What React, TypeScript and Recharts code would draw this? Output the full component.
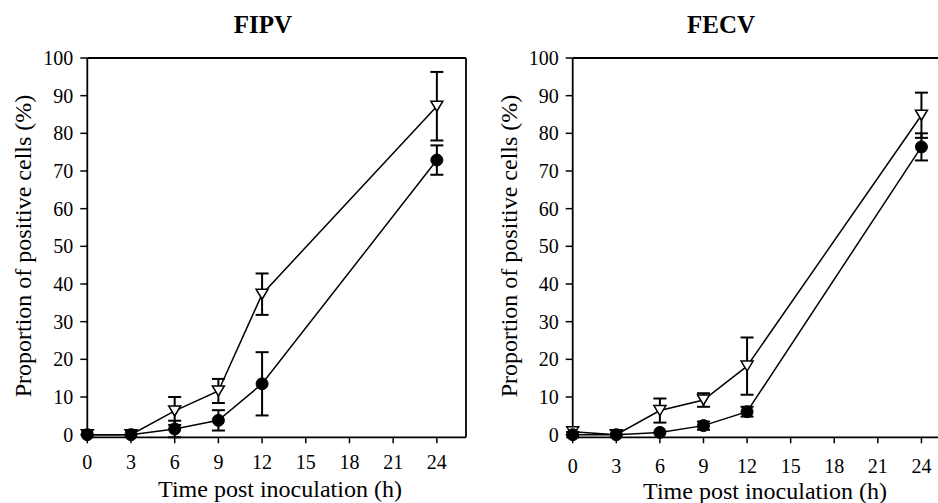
import React from 'react';
import { LineChart, Line, XAxis, YAxis, ErrorBar, ReferenceLine } from 'recharts';

const hours = [0, 3, 6, 9, 12, 24];
const xTicks = [0, 3, 6, 9, 12, 15, 18, 21, 24];
const yTicks = [0, 10, 20, 30, 40, 50, 60, 70, 80, 90, 100];

const fipvTri = [0, 0, 6.3, 11.6, 37.3, 87.2];
const fipvTriErr = [0, 0, 3.7, 3.2, 5.5, 9.1];
const fipvCirc = [0, 0, 1.5, 3.8, 13.5, 72.9];
const fipvCircErr = [0, 0, 2.2, 2.7, 8.4, 3.9];

const fecvTri = [0.8, 0, 6.4, 9.2, 18.2, 84.8];
const fecvTriErr = [0, 0, 3.2, 1.8, 7.6, 6];
const fecvCirc = [0, 0, 0.6, 2.4, 6.1, 76.4];
const fecvCircErr = [0.7, 0, 0, 1.1, 1.3, 3.6];

const titles = ['FIPV', 'FECV'];
const yLabel = 'Proportion of positive cells (%)';
const xLabel = 'Time post inoculation (h)';

const FONT = '"Liberation Serif", "Times New Roman", serif';

const build = (tri: number[], triErr: number[], circ: number[], circErr: number[]) =>
  hours.map((h, i) => ({ h, tri: tri[i], triErr: triErr[i], circ: circ[i], circErr: circErr[i] }));

const fipvData = build(fipvTri, fipvTriErr, fipvCirc, fipvCircErr);
const fecvData = build(fecvTri, fecvTriErr, fecvCirc, fecvCircErr);

const TriDot = (p: any) => {
  const { cx, cy, index } = p;
  if (cx == null || cy == null) return <g key={`t-${index}`} />;
  const w = 6;
  const hh = 5;
  return (
    <path
      key={`t-${index}`}
      d={`M${cx - w},${cy - hh} L${cx + w},${cy - hh} L${cx},${cy + hh} Z`}
      fill="#fff"
      stroke="#000"
      strokeWidth={1.5}
    />
  );
};

const CircDot = (p: any) => {
  const { cx, cy, index } = p;
  if (cx == null || cy == null) return <g key={`c-${index}`} />;
  return <circle key={`c-${index}`} cx={cx} cy={cy} r={6} fill="#000" stroke="#000" strokeWidth={1} />;
};

type PanelProps = {
  data: any[];
  width: number;
  yAxisWidth: number;
  marginRight: number;
  xTickMargin: number;
};

const Panel = ({ data, width, yAxisWidth, marginRight, xTickMargin }: PanelProps) => (
  <LineChart
    width={width}
    height={503}
    data={data}
    margin={{ top: 58, right: marginRight, bottom: 35.7, left: 0 }}
  >
    <XAxis
      dataKey="h"
      type="number"
      domain={[0, 26]}
      ticks={xTicks}
      interval={0}
      height={30}
      axisLine={{ stroke: '#000', strokeWidth: 1.8 }}
      tickLine={{ stroke: '#000', strokeWidth: 1.5 }}
      tickSize={6}
      tickMargin={xTickMargin}
      tick={{ fill: '#000', fontSize: 20, fontFamily: FONT }}
    />
    <YAxis
      type="number"
      domain={[0, 100]}
      ticks={yTicks}
      interval={0}
      width={yAxisWidth}
      axisLine={{ stroke: '#000', strokeWidth: 1.8 }}
      tickLine={{ stroke: '#000', strokeWidth: 1.5 }}
      tickSize={7}
      tickMargin={7}
      tick={{ fill: '#000', fontSize: 20, fontFamily: FONT }}
    />
    <ReferenceLine y={100} stroke="#000" strokeWidth={1.8} />
    <ReferenceLine x={26} stroke="#000" strokeWidth={1.8} />
    <Line
      dataKey="tri"
      stroke="#000"
      strokeWidth={1.5}
      isAnimationActive={false}
      dot={TriDot}
      activeDot={false}
    >
      <ErrorBar dataKey="triErr" direction="y" width={6.5} stroke="#000" strokeWidth={2} />
    </Line>
    <Line
      dataKey="circ"
      stroke="#000"
      strokeWidth={1.5}
      isAnimationActive={false}
      dot={CircDot}
      activeDot={false}
    >
      <ErrorBar dataKey="circErr" direction="y" width={6.5} stroke="#000" strokeWidth={2} />
    </Line>
  </LineChart>
);

export default function App() {
  return (
    <div
      style={{
        position: 'absolute',
        left: 0,
        top: 0,
        width: 938,
        height: 503,
        overflow: 'hidden',
        background: '#fff',
      }}
    >
      <div style={{ position: 'absolute', left: 0, top: 0 }}>
        <Panel data={fipvData} width={470} yAxisWidth={87.3} marginRight={4} xTickMargin={11} />
      </div>
      <div style={{ position: 'absolute', left: 470, top: 0 }}>
        <Panel data={fecvData} width={490} yAxisWidth={102.7} marginRight={9.5} xTickMargin={15} />
      </div>
      <svg
        width={938}
        height={503}
        style={{ position: 'absolute', left: 0, top: 0, pointerEvents: 'none' }}
      >
        <text x={263} y={33} textAnchor="middle" fontFamily={FONT} fontWeight="bold" fontSize={25} fill="#000">
          {titles[0]}
        </text>
        <text x={721} y={33} textAnchor="middle" fontFamily={FONT} fontWeight="bold" fontSize={25} fill="#000">
          {titles[1]}
        </text>
        <text
          transform="translate(31,246) rotate(-90)"
          textAnchor="middle"
          fontFamily={FONT}
          fontSize={24}
          fill="#000"
        >
          {yLabel}
        </text>
        <text
          transform="translate(516.7,246) rotate(-90)"
          textAnchor="middle"
          fontFamily={FONT}
          fontSize={24}
          fill="#000"
        >
          {yLabel}
        </text>
        <text x={280} y={497} textAnchor="middle" fontFamily={FONT} fontSize={24} fill="#000">
          {xLabel}
        </text>
        <text x={765} y={499.3} textAnchor="middle" fontFamily={FONT} fontSize={24} fill="#000">
          {xLabel}
        </text>
      </svg>
    </div>
  );
}
